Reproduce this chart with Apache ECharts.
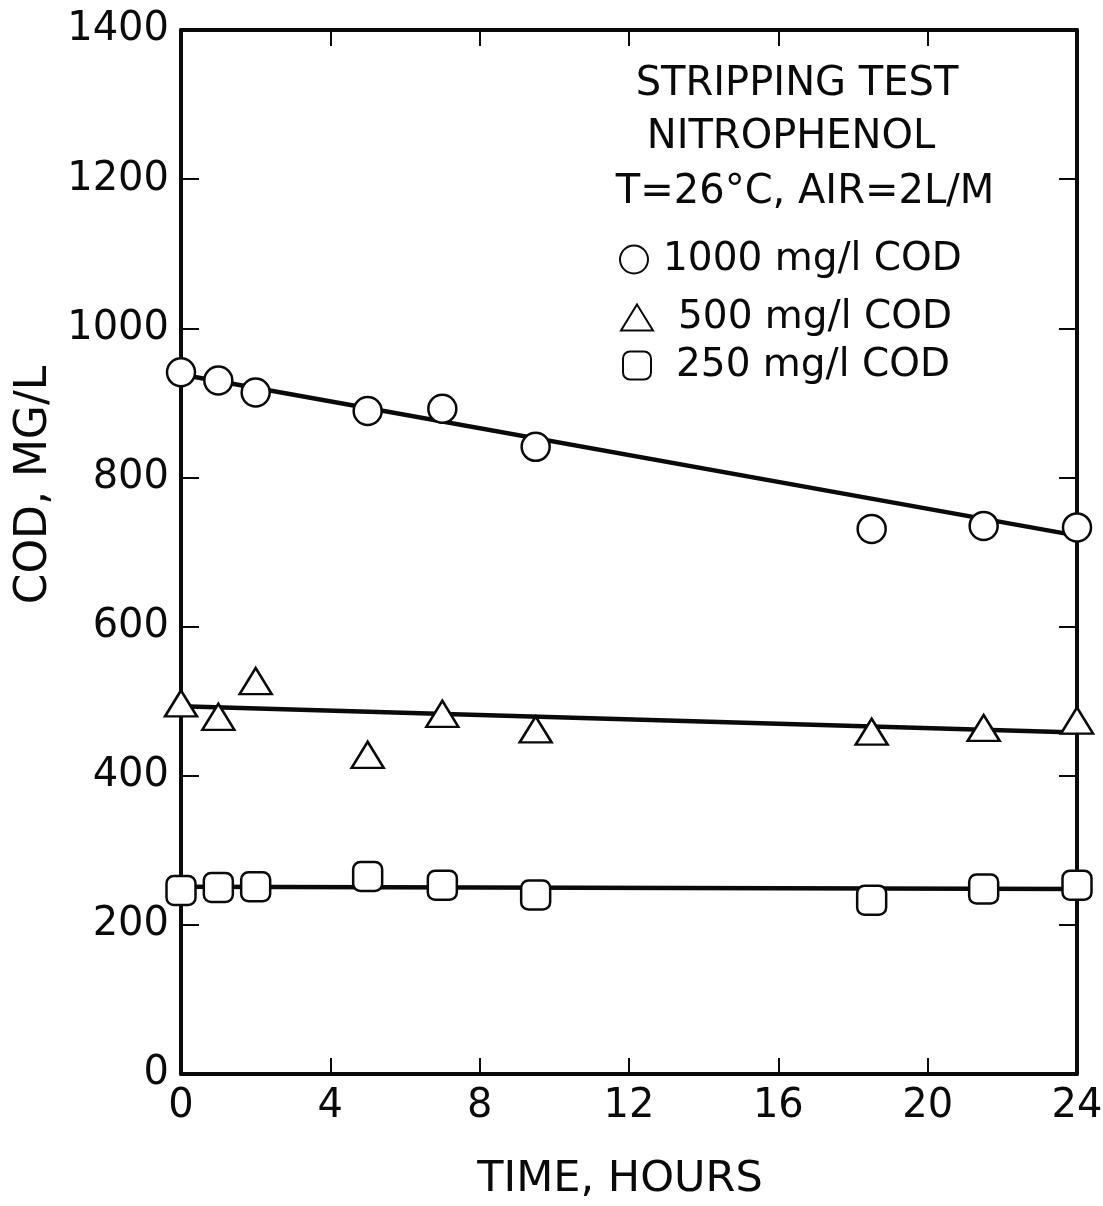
<!DOCTYPE html>
<html>
<head>
<meta charset="utf-8">
<script src="https://cdn.jsdelivr.net/npm/echarts@6/dist/echarts.min.js"></script>
<style>
  html, body { margin: 0; padding: 0; background: #fff; }
  #chart { width: 1103px; height: 1206px; }
</style>
</head>
<body>
<div id="chart"></div>
<script>
// Sampling times (hours) shared by all three runs
const hours = [0, 1, 2, 5, 7, 9.5, 18.5, 21.5, 24];

// Measured COD (mg/L) for each initial concentration
const cod1000 = [941, 930, 914, 889, 892, 841, 731, 735, 733];
const cod500  = [497, 479, 527, 428, 483, 462, 459, 464, 474];
const cod250  = [246, 250, 251, 265, 253, 240, 233, 248, 253];

// Fitted straight lines: values at the start and end of the run
const fitHours = [0, 24];
const fit1000 = [938, 722];
const fit500  = [493, 458];
const fit250  = [251, 248];

// Axis ticks
const xTicks = [0, 4, 8, 12, 16, 20, 24];
const yTicks = [0, 200, 400, 600, 800, 1000, 1200, 1400];

const seriesNames = ['1000 mg/l COD', '500 mg/l COD', '250 mg/l COD'];
const annotation = ['STRIPPING TEST', 'NITROPHENOL', 'T=26°C, AIR=2L/M'];
const xTitle = 'TIME, HOURS';
const yTitle = 'COD, MG/L';

const pair = (xs, ys) => xs.map((x, i) => [x, ys[i]]);

const FONT = 'DejaVu Sans';
const INK = '#0a0a0a';

// Closed frame: every axis draws its own line at the plot edge
const frameLine = { show: true, onZero: false, lineStyle: { color: INK, width: 4 } };
const innerTick = (len) => ({ show: true, inside: true, length: len, lineStyle: { color: INK, width: 2 } });

const markerStyle = { color: '#ffffff', borderColor: INK, borderWidth: 2.5, opacity: 1 };

function fitSeries(id, ys) {
  return {
    type: 'line', name: id, data: pair(fitHours, ys),
    showSymbol: false, symbol: 'none', silent: true, z: 2,
    lineStyle: { color: INK, width: 4.5 }
  };
}

function scatterSeries(name, ys, symbol, size) {
  return {
    type: 'scatter', name: name, data: pair(hours, ys),
    symbol: symbol, symbolSize: size, clip: false, z: 3,
    itemStyle: markerStyle
  };
}

function legendRow(name, top, left, iconW, iconH, gap) {
  return {
    data: [name], top: top, left: left, padding: 0,
    itemWidth: iconW, itemHeight: iconH, selectedMode: false,
    itemStyle: { opacity: 1 },
    textStyle: { fontFamily: FONT, fontSize: 39, color: INK, padding: [0, 0, 0, gap] }
  };
}

const plainNumber = (v) => String(v);
const annotationFont = '40px "' + FONT + '"';

const chart = echarts.init(document.getElementById('chart'), null, { renderer: 'canvas' });

chart.setOption({
  backgroundColor: '#ffffff',
  animation: false,
  grid: { left: 181, right: 26, top: 30, bottom: 132, outerBoundsMode: 'none', containLabel: false },
  xAxis: [
    {
      type: 'value', position: 'bottom',
      min: xTicks[0], max: xTicks[xTicks.length - 1], interval: 4,
      axisLine: frameLine, axisTick: innerTick(16), splitLine: { show: false },
      axisLabel: { show: true, fontFamily: FONT, fontSize: 40, color: INK, margin: 13,
                   formatter: plainNumber, showMinLabel: true, showMaxLabel: true },
      name: xTitle, nameLocation: 'middle', nameGap: 84,
      nameTextStyle: { fontFamily: FONT, fontSize: 43, color: INK, padding: [0, 18, 0, 0] }
    },
    {
      type: 'value', position: 'top',
      min: xTicks[0], max: xTicks[xTicks.length - 1], interval: 4,
      axisLine: frameLine, axisTick: innerTick(16), splitLine: { show: false },
      axisLabel: { show: false }
    }
  ],
  yAxis: [
    {
      type: 'value', position: 'left',
      min: yTicks[0], max: yTicks[yTicks.length - 1], interval: 200,
      axisLine: frameLine, axisTick: innerTick(18), splitLine: { show: false },
      axisLabel: { show: true, fontFamily: FONT, fontSize: 40, color: INK, margin: 12,
                   formatter: plainNumber, showMinLabel: true, showMaxLabel: true },
      name: yTitle, nameLocation: 'middle', nameGap: 115, nameRotate: 90,
      nameTextStyle: { fontFamily: FONT, fontSize: 44, color: INK, padding: [0, 0, 0, 134] }
    },
    {
      type: 'value', position: 'right',
      min: yTicks[0], max: yTicks[yTicks.length - 1], interval: 200,
      axisLine: frameLine, axisTick: innerTick(18), splitLine: { show: false },
      axisLabel: { show: false }
    }
  ],
  legend: [
    legendRow(seriesNames[0], 240, 619, 28, 28, 10),
    legendRow(seriesNames[1], 298, 620, 32, 26, 20),
    legendRow(seriesNames[2], 346, 622, 28, 28, 20)
  ],
  graphic: [
    { type: 'text', x: 797, y: 85, style: { text: annotation[0], font: annotationFont, fill: INK, align: 'center', verticalAlign: 'middle' } },
    { type: 'text', x: 791, y: 138, style: { text: annotation[1], font: annotationFont, fill: INK, align: 'center', verticalAlign: 'middle' } },
    { type: 'text', x: 805, y: 193, style: { text: annotation[2], font: annotationFont, fill: INK, align: 'center', verticalAlign: 'middle' } }
  ],
  series: [
    fitSeries('fit1000', fit1000),
    fitSeries('fit500', fit500),
    fitSeries('fit250', fit250),
    scatterSeries(seriesNames[0], cod1000, 'circle', 28),
    scatterSeries(seriesNames[1], cod500, 'triangle', [32, 26]),
    scatterSeries(seriesNames[2], cod250, 'roundRect', 29)
  ]
});
</script>
</body>
</html>
